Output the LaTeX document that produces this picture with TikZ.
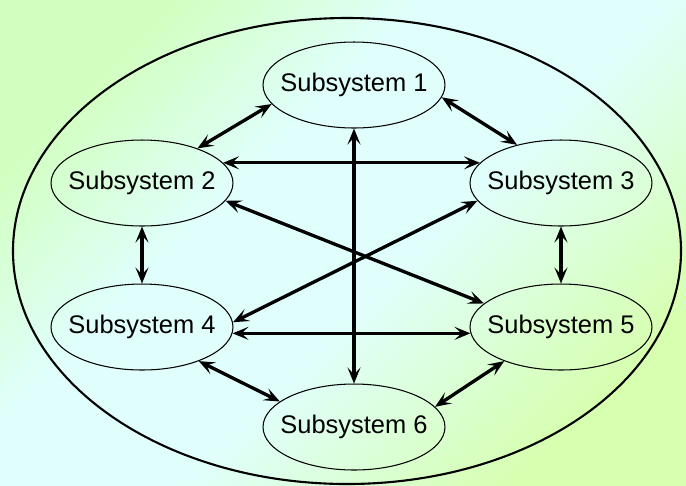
\documentclass[tikz,border=0pt]{standalone}
\usepackage{fontspec}
\setmainfont{Liberation Sans}
\usetikzlibrary{arrows.meta,shapes.geometric}
\definecolor{bgtl}{RGB}{210,255,192}
\definecolor{bgmid}{RGB}{224,255,252}
\definecolor{bgbr}{RGB}{214,255,176}
\pgfdeclareverticalshading{bgdiag}{100bp}{color(0bp)=(bgbr); color(25bp)=(bgbr);
  color(45bp)=(bgmid); color(60bp)=(bgmid); color(75bp)=(bgtl); color(100bp)=(bgtl)}

\begin{document}
\begin{tikzpicture}[x=0.02cm, y=-0.02cm,
    sub/.style={ellipse, draw=black, line width=0.6pt,
              minimum width=3.64cm, minimum height=1.72cm, inner sep=0pt,
              label={[font=\fontsize{14.5}{17}\selectfont]center:#1}},
    outer/.style={draw=black, line width=1.2pt},
    arr/.style={{Stealth[length=3.2mm, width=2.6mm, inset=1.4mm]}-{Stealth[length=3.2mm, width=2.6mm, inset=1.4mm]},
              draw=black, line width=1.9pt}]
  \useasboundingbox (0,0) rectangle (686,485);

  % ---------- background and system boundary --------------------------------
  \shade[shading=bgdiag, shading angle=45] (0,0) rectangle (686,485);
  \draw[outer] (347,251) ellipse [x radius=334, y radius=233];

  % ---------- the six subsystems ---------------------------------------------
  \node[sub={Subsystem 1}] (s1) at (354,85)  {};
  \node[sub={Subsystem 2}] (s2) at (142,183) {};
  \node[sub={Subsystem 3}] (s3) at (561,183) {};
  \node[sub={Subsystem 4}] (s4) at (142,327) {};
  \node[sub={Subsystem 5}] (s5) at (561,327) {};
  \node[sub={Subsystem 6}] (s6) at (354,427) {};

  % ---------- neighbours on the ring -----------------------------------------
  \draw[arr] (s1.193) -- (s2.32);
  \draw[arr] (s1.-8)  -- (s3.139);
  \draw[arr] (s2.south) -- (s4.north);
  \draw[arr] (s3.south) -- (s5.north);
  \draw[arr] (s4.-31) -- (s6.161);
  \draw[arr] (s5.-149) -- (s6.14);

  % ---------- links across the middle ----------------------------------------
  \draw[arr] (s2.14)  -- (s3.166);
  \draw[arr] (s4.-4)  -- (s5.184);
  \draw[arr] (s2.-12) -- (s5.163);
  \draw[arr] (s4.3)   -- (s3.192);
  \draw[arr] (s1.south) -- (s6.north);
\end{tikzpicture}
\end{document}
